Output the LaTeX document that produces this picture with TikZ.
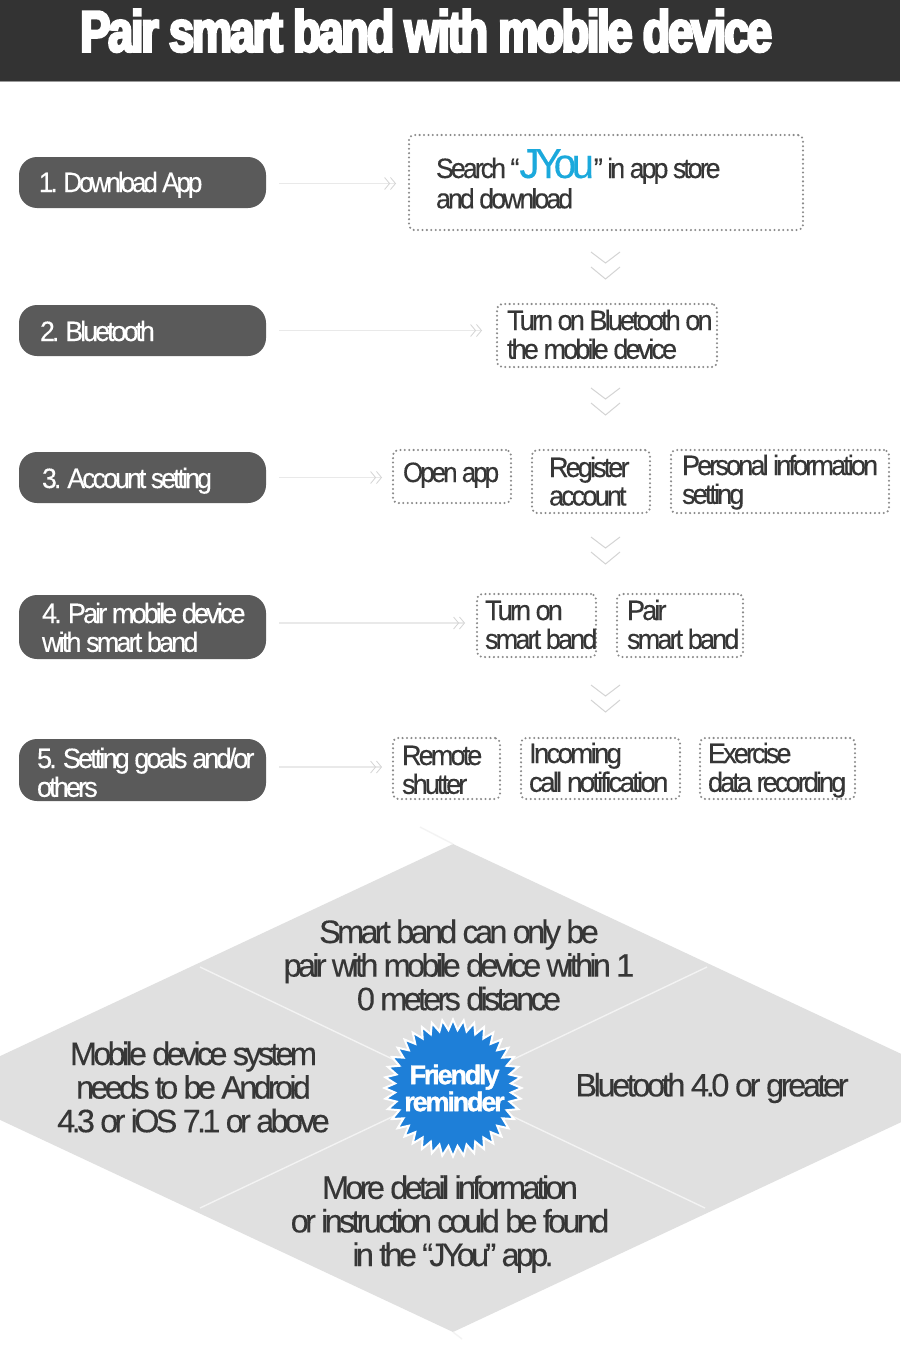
\documentclass[tikz,border=0pt]{standalone}
\usepackage{fontspec}
\usetikzlibrary{arrows.meta,shapes.geometric}
\newfontfamily\lab[LetterSpace=-10.5,FakeBold=0.25,FakeStretch=.97]{Liberation Sans}
\newfontfamily\labp[LetterSpace=-10.5,FakeBold=0.25,FakeStretch=.955]{Liberation Sans}
\newfontfamily\labq[LetterSpace=-10.5,FakeBold=0.25,FakeStretch=.925]{Liberation Sans}
\newfontfamily\labd[LetterSpace=-10.5,FakeBold=0.25]{Liberation Sans}
\newfontfamily\labn[LetterSpace=-11.5,FakeBold=0.25]{Liberation Sans}
\newfontfamily\ttl[LetterSpace=-4,FakeStretch=.78,FakeBold=4.5]{Liberation Sans Bold}
\newfontfamily\bdg[LetterSpace=-8,FakeBold=1.2]{Liberation Sans Bold}
\definecolor{txt}{HTML}{363636}
\definecolor{pillc}{HTML}{5A5A5A}
\definecolor{dotc}{HTML}{8A8A8A}
\definecolor{chev}{HTML}{D4D4D4}
\definecolor{linec}{HTML}{E9E9E9}
\definecolor{dia}{HTML}{E0E0E0}
\definecolor{cyanj}{HTML}{1BA9DC}
\definecolor{blueb}{HTML}{1E7FD8}
\tikzset{
 x=1pt,y=-1pt,
 basebox/.style={inner sep=0pt,outer sep=0pt,font=\lab\fontsize{28}{28.5}\selectfont},
 pill/.style={basebox,font=\labp\fontsize{28}{28.5}\selectfont,fill=pillc,text=white,rounded corners=18pt},
 dotbox/.style={basebox,text=txt,draw=dotc,line width=2.3pt,line cap=round,dash pattern=on 0pt off 4.4pt,rounded corners=5pt},
 flow/.style={draw=linec,line width=1.6pt,shorten <=13pt,-{Straight Barb[length=5pt,width=12pt,line width=.8pt,color=chev] Straight Barb[length=5pt,width=12pt,line width=.8pt,color=chev]}},
 vee/.style={draw=chev,line width=1pt},
 note/.style={inner sep=0pt,outer sep=0pt,align=center,text=txt,font=\labn\fontsize{32.5}{33.6}\selectfont},
 divider/.style={draw=white!60!dia,line width=1.4pt},
}
% style, name, x1, y1, x2, y2, left pad, first baseline, lines
\newcommand{\bx}[9]{%
 \pgfmathsetlengthmacro{\W}{#5-#3}\pgfmathsetlengthmacro{\H}{#6-#4}%
 \pgfmathsetlengthmacro{\R}{(#4+#6)/2-#8}%
 \node[#1,minimum width=\W,minimum height=\H] (#2) at ({(#3+#5)/2},{(#4+#6)/2})
  {\hbox to \W{\hspace*{#7pt}\raisebox{\R}[0pt][0pt]{\begin{tabular}[t]{@{}l@{}}#9\end{tabular}}\hfil}};}
\newcommand{\dblv}[2]{%
 \draw[vee] (#1-14.5,#2) -- (#1,#2+11) -- (#1+14.5,#2);
 \draw[vee] (#1-14.5,#2+15) -- (#1,#2+27) -- (#1+14.5,#2+15);}
\begin{document}
\begin{tikzpicture}
\useasboundingbox (0,0) rectangle (900,1346);
\fill[white] (0,0) rectangle (900,1346);
\fill[fill=black!80] (0,0) rectangle (900,81);
\fill[fill=black!40] (0,81) rectangle (900,82);
\node[inner sep=0pt,anchor=base west,text=white,font=\ttl\fontsize{58}{60}\selectfont] (title) at (80,51.5) {Pair smart band with mobile device};
% steps
\bx{pill,font=\labq\fontsize{28}{28.5}\selectfont}{p1}{19}{157}{266}{208}{20}{192}{1. Download App}
\bx{pill}{p2}{19}{305}{266}{356}{21}{341}{2. Bluetooth}
\bx{pill}{p3}{19}{452}{266}{503}{23}{488}{3. Account setting}
\bx{pill,font=\lab\fontsize{28}{28.5}\selectfont}{p4}{19}{595}{266}{659}{23}{623}{4. Pair mobile device\\with smart band}
\bx{pill,font=\lab\fontsize{28}{28.5}\selectfont}{p5}{19}{739}{266}{801}{18}{768}{5. Setting goals and/or\\others}
\bx{dotbox,font=\labp\fontsize{28}{28.5}\selectfont}{b1}{409}{135}{803}{230}{27}{178}{Search “{\fontsize{42}{28.5}\selectfont\textcolor{cyanj}{JYou}}” in app store\\[1.5pt]and download}
\bx{dotbox}{b2}{497}{304}{717}{367}{10}{330}{Turn on Bluetooth on\\the mobile device}
\bx{dotbox,font=\labq\fontsize{28}{28.5}\selectfont}{b3a}{393}{450}{511}{503}{10}{482}{Open app}
\bx{dotbox}{b3b}{532}{450}{650}{513}{17}{477}{Register\\account}
\bx{dotbox}{b3c}{671}{450}{889}{513}{11}{475}{Personal information\\setting}
\bx{dotbox}{b4a}{477}{594}{596}{657}{8}{620}{Turn on\\smart band}
\bx{dotbox}{b4b}{617}{594}{743}{657}{10}{620}{Pair\\smart band}
\bx{dotbox}{b5a}{393}{738}{500}{799}{9}{765}{Remote\\shutter}
\bx{dotbox,font=\labd\fontsize{28}{28.5}\selectfont}{b5b}{521}{738}{680}{799}{8}{763}{Incoming\\call notification}
\bx{dotbox}{b5c}{700}{738}{855}{799}{8}{763}{Exercise\\data recording}
\draw[flow,shorten >=13pt] ([yshift=-1pt]p1.east) -- ([yshift=-1pt]b1.west |- p1.east);
\draw[flow,shorten >=15pt] (p2.east) -- (b2.west |- p2.east);
\draw[flow,shorten >=11pt] (p3.east) -- (b3a.west |- p3.east);
\draw[flow,shorten >=12pt] ([yshift=4pt]p4.east) -- ([yshift=4pt]b4a.west |- p4.east);
\draw[flow,shorten >=11pt] ([yshift=3pt]p5.east) -- ([yshift=3pt]b5a.west |- p5.east);
\dblv{605.5}{252}
\dblv{605.5}{388}
\dblv{605.5}{537}
\dblv{605.5}{685}
% diamond
\fill[dia] (453,844) -- (974,1088) -- (453,1332) -- (-68,1088) -- cycle;
\draw[divider] (420,827) -- (453,844);
\draw[divider] (453,1332) -- (462,1339);
\coordinate (d1) at (200,967);
\coordinate (d2) at (707,967);
\coordinate (d3) at (200,1208);
\coordinate (d4) at (705,1208);
\coordinate (dc) at (453,1088);
\draw[divider] (d1) -- (dc) -- (d4);
\draw[divider] (d2) -- (dc) -- (d3);
\node[star,star points=40,star point ratio=1.18,minimum size=137pt,inner sep=0pt,fill=blueb,draw=white,line width=2pt,
 label={[inner sep=0pt,xshift=1.5pt,text=white,align=center,font=\bdg\fontsize{27}{27}\selectfont]center:Friendly\\reminder}] (badge) at (dc) {};
\node[note] (n1) at (459,965) {Smart band can only be\\pair with mobile device within 1\\0 meters distance};
\node[note] (n2) at (193.5,1087) {Mobile device system\\needs to be Android\\4.3 or iOS 7.1 or above};
\node[note,font=\labd\fontsize{32.5}{33.6}\selectfont] (n3) at (712,1088) {Bluetooth 4.0 or greater};
\node[note] (n4) at (450,1224) {More detail information\\or instruction could be found\\\hspace*{6pt}in the “JYou” app.};
\end{tikzpicture}
\end{document}
